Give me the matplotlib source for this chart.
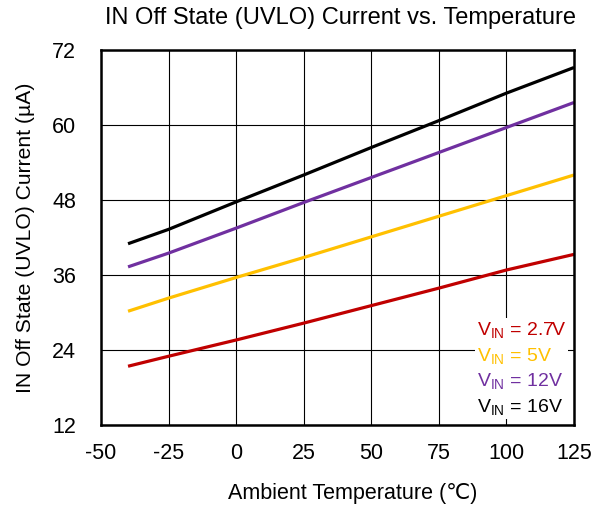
import matplotlib
matplotlib.use("Agg")
import matplotlib.pyplot as plt

plt.rcParams['font.family'] = ['Liberation Sans', 'DejaVu Sans']
plt.rcParams['mathtext.fontset'] = 'custom'
plt.rcParams['mathtext.rm'] = 'Liberation Sans'
plt.rcParams['mathtext.it'] = 'Liberation Sans:italic'
plt.rcParams['axes.unicode_minus'] = False

# data
temp = [-40, -25, 0, 25, 50, 75, 100, 125]
i_2v7 = [21.4, 23.0, 25.6, 28.3, 31.1, 33.9, 36.8, 39.3]
i_5v = [30.2, 32.3, 35.6, 38.8, 42.1, 45.4, 48.7, 52.0]
i_12v = [37.3, 39.5, 43.5, 47.6, 51.6, 55.6, 59.6, 63.6]
i_16v = [41.0, 43.3, 47.7, 52.0, 56.4, 60.7, 65.1, 69.2]

series = [
    (i_2v7, '#C00000', r'V$_{\mathrm{IN}}$ = 2.7V'),
    (i_5v, '#FFC000', r'V$_{\mathrm{IN}}$ = 5V'),
    (i_12v, '#7030A0', r'V$_{\mathrm{IN}}$ = 12V'),
    (i_16v, '#000000', r'V$_{\mathrm{IN}}$ = 16V'),
]

x_ticks = [-50, -25, 0, 25, 50, 75, 100, 125]
y_ticks = [12, 24, 36, 48, 60, 72]

fig = plt.figure(figsize=(6.03, 5.08), dpi=100)
ax = fig.add_axes([0.1675, 0.1634, 0.7845, 0.7382])

for vals, col, lab in series:
    ax.plot(temp, vals, color=col, lw=2.3, label=lab, solid_capstyle='butt')

ax.set_xlim(-50, 125)
ax.set_ylim(12, 72)
ax.set_xticks(x_ticks)
ax.set_yticks(y_ticks)
ax.grid(True, color='black', lw=0.8)
ax.set_axisbelow(True)
ax.tick_params(length=0, labelsize=15.5, pad=13)
ax.tick_params(axis='y', pad=18)
for s in ax.spines.values():
    s.set_linewidth(1.8)

ax.set_title('IN Off State (UVLO) Current vs. Temperature', fontsize=17,
             pad=19, x=0.507)
ax.set_xlabel('Ambient Temperature (\u2103)', fontsize=15.5, labelpad=14)
ax.xaxis.set_label_coords(0.533, -0.155)
ax.set_ylabel('IN Off State (UVLO) Current (\u00b5A)', fontsize=15.2, labelpad=12)

leg = ax.legend(loc='lower right', handlelength=0, handletextpad=0,
                labelcolor='linecolor', fontsize=14, frameon=True,
                fancybox=False, edgecolor='none', framealpha=1,
                borderpad=0.1, labelspacing=0.3, borderaxespad=0.3)
for h in leg.legend_handles:
    h.set_visible(False)

fig.savefig('out.png', dpi=100)
